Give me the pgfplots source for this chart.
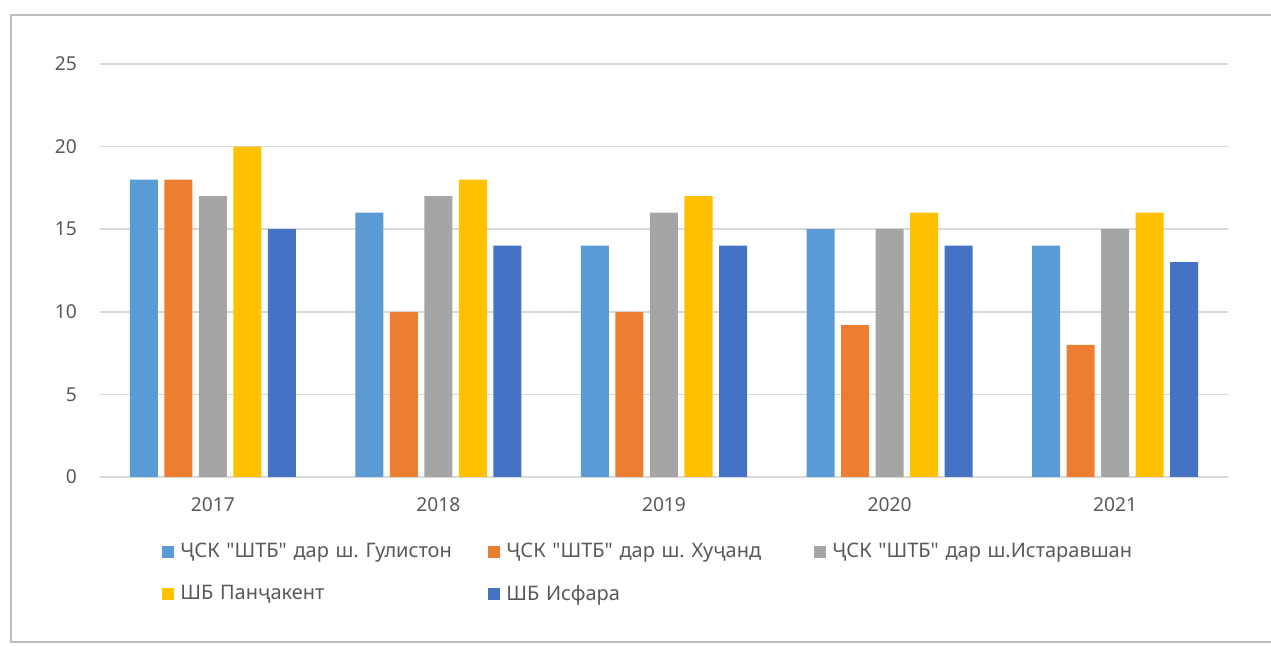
\documentclass[border=0pt]{standalone}
\usepackage{pgfplots}
\pgfplotsset{compat=1.18}
\usepackage{fontspec}
\setmainfont{Noto Sans}[Ligatures=TeXOff]
\frenchspacing

\definecolor{cGul}{HTML}{5B9BD5}
\definecolor{cKhu}{HTML}{ED7D31}
\definecolor{cIst}{HTML}{A5A5A5}
\definecolor{cPan}{HTML}{FFC000}
\definecolor{cIsf}{HTML}{4472C4}

\begin{document}
\begin{tikzpicture}[x=1pt,y=1pt]
\useasboundingbox (0,0) rectangle (635.5,323);
% chart frame
\draw[black!25, line width=1pt] (640,315.5) -- (5.5,315.5) -- (5.5,2) -- (640,2);
\begin{axis}[
  at={(50pt,84.5pt)}, anchor=south west,
  scale only axis, width=564pt, height=206.5pt,
  ymin=0, ymax=25, ytick={0,5,10,15,20,25},
  xmin=-0.5, xmax=4.5,
  xtick={0,1,2,3,4}, xticklabels={2017,2018,2019,2020,2021},
  ybar=3.25pt, bar width=14pt,
  axis line style={draw=none}, major tick length=0pt,
  ymajorgrids, grid style={color=black!15, line width=0.8pt},
  ticklabel style={font=\fontsize{9.6}{11}\selectfont, text=black!65},
  /pgf/number format/assume math mode=true,
  yticklabel style={xshift=-8pt},
  xticklabel style={yshift=-7pt},
  legend columns=3,
  legend style={draw=none, fill=none, inner sep=0pt,
    at={(0.055,-0.15)}, anchor=north west,
    font=\fontsize{10}{12}\selectfont, text=black!65,
    row sep=8pt,
    nodes={text width=151pt, align=left, inner xsep=3pt}},
  legend image code/.code={\fill[#1] (0pt,-3pt) rectangle (6pt,3pt);},
]
\addplot[fill=cGul, draw=none] coordinates {(0,18) (1,16) (2,14) (3,15) (4,14)};
\addplot[fill=cKhu, draw=none] coordinates {(0,18) (1,10) (2,10) (3,9.2) (4,8)};
\addplot[fill=cIst, draw=none] coordinates {(0,17) (1,17) (2,16) (3,15) (4,15)};
\addplot[fill=cPan, draw=none] coordinates {(0,20) (1,18) (2,17) (3,16) (4,16)};
\addplot[fill=cIsf, draw=none] coordinates {(0,15) (1,14) (2,14) (3,14) (4,13)};
\legend{ҶСК "ШТБ" дар ш. Гулистон, ҶСК "ШТБ" дар ш. Хуҷанд, ҶСК "ШТБ" дар ш.Истаравшан, ШБ Панҷакент, ШБ Исфара}
\end{axis}
\end{tikzpicture}
\end{document}
